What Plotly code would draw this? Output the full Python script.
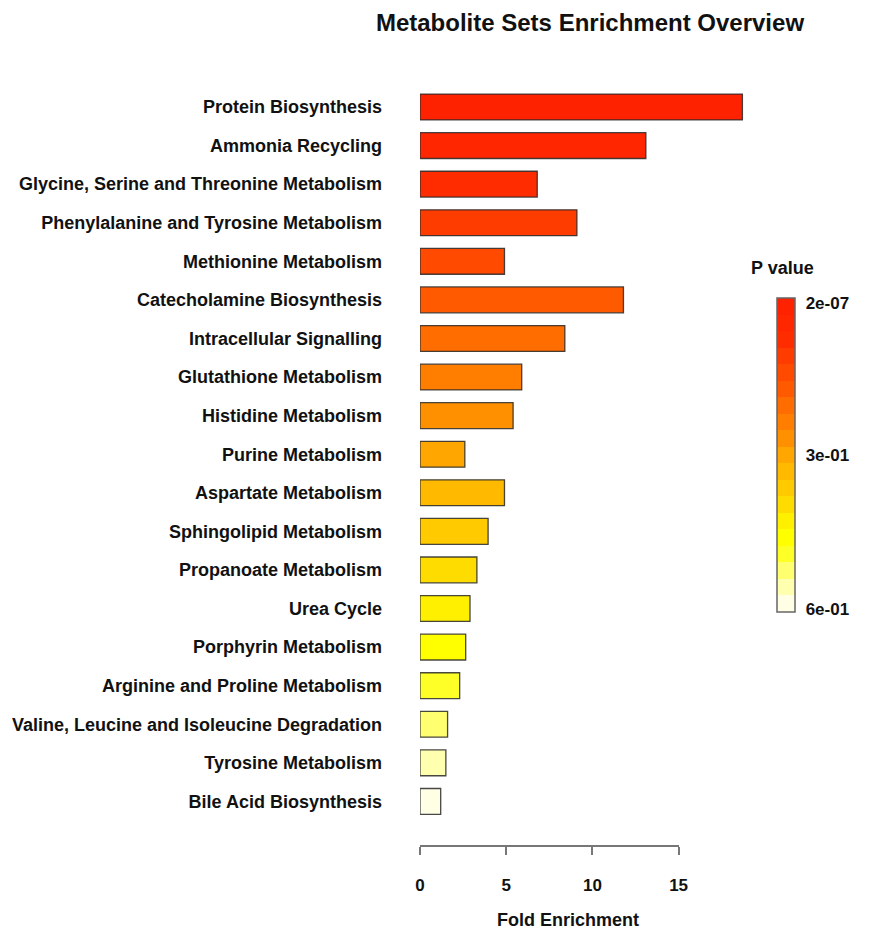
import plotly.graph_objects as go

categories = [
    "Protein Biosynthesis", "Ammonia Recycling", "Glycine, Serine and Threonine Metabolism",
    "Phenylalanine and Tyrosine Metabolism", "Methionine Metabolism", "Catecholamine Biosynthesis",
    "Intracellular Signalling", "Glutathione Metabolism", "Histidine Metabolism",
    "Purine Metabolism", "Aspartate Metabolism", "Sphingolipid Metabolism",
    "Propanoate Metabolism", "Urea Cycle", "Porphyrin Metabolism",
    "Arginine and Proline Metabolism", "Valine, Leucine and Isoleucine Degradation",
    "Tyrosine Metabolism", "Bile Acid Biosynthesis",
]
fold_enrichment = [18.7, 13.1, 6.8, 9.1, 4.9, 11.8, 8.4, 5.9, 5.4, 2.6,
                   4.9, 3.95, 3.3, 2.9, 2.65, 2.3, 1.6, 1.5, 1.2]
x_ticks = [0, 5, 10, 15]
pvalue_ticktext = ["2e-07", "3e-01", "6e-01"]

bar_colors = ["#FF2200", "#FF2600", "#FF2C00", "#FF3C00", "#FF4A00", "#FF5A00", "#FF6C00",
              "#FF7E00", "#FF9000", "#FFA600", "#FFBA00", "#FFCA00", "#FFDC00", "#FFF000",
              "#FFFF00", "#FFFF28", "#FFFF70", "#FFFFB0", "#FFFFE6"]

# stepped colorscale, bottom (white) -> top (red)
rev = bar_colors[::-1]
n = len(rev)
cscale = []
for i, c in enumerate(rev):
    cscale.append([i / n, c])
    cscale.append([(i + 1) / n, c])

FONT = "Liberation Sans, Arial, sans-serif"
TXT = "#111"

fig = go.Figure()
fig.add_trace(go.Scatter(
    x=[None], y=[None], xaxis="x2", yaxis="y", mode="markers", showlegend=False, hoverinfo="skip",
    marker=dict(
        color=[0.5], cmin=0, cmax=1, colorscale=cscale, showscale=True,
        colorbar=dict(
            x=1.0509, xanchor="left", xpad=0, y=0.5098, yanchor="middle", ypad=0,
            thickness=18, lenmode="pixels", len=314,
            outlinecolor="#666", outlinewidth=1.5,
            tickvals=[0.985, 0.5, 0.01], ticktext=pvalue_ticktext,
            ticks="outside", ticklen=7, tickcolor="rgba(0,0,0,0)",
            tickfont=dict(family=FONT, size=17, weight="bold", color=TXT),
        ),
    ),
))
fig.add_trace(go.Bar(
    x=fold_enrichment, y=categories, orientation="h",
    marker=dict(color=bar_colors, line=dict(color="rgba(40,40,40,0.85)", width=1.3)),
    width=0.67, showlegend=False, hoverinfo="x+y",
))

fig.update_layout(
    width=871, height=930,
    margin=dict(l=420, r=111, t=80, b=85),
    paper_bgcolor="white", plot_bgcolor="rgba(0,0,0,0)",
    title=dict(text="Metabolite Sets Enrichment Overview", x=0.5, xref="paper",
               xanchor="center", y=1 - 23 / 930, yanchor="middle",
               font=dict(family=FONT, size=24, weight="bold", color=TXT)),
    xaxis=dict(range=[0, 19.72], visible=False, showgrid=False, zeroline=False),
    xaxis2=dict(domain=[0, 15 / 19.72], range=[0, 15], anchor="y",
                tickvals=x_ticks, ticks="outside", ticklen=8, tickwidth=1.5, tickcolor="#777",
                showline=True, linecolor="#777", linewidth=1.5, showgrid=False, zeroline=False,
                tickfont=dict(family=FONT, size=17, weight="bold", color=TXT),
                ticklabelstandoff=16),
    yaxis=dict(type="category", categoryorder="array", categoryarray=categories,
               range=[19.13, -0.70], showgrid=False, zeroline=False, showline=False,
               ticks="", ticklabelstandoff=37,
               tickfont=dict(family=FONT, size=18, weight="bold", color=TXT)),
    annotations=[
        dict(text="Fold Enrichment", xref="paper", yref="paper",
             x=(568 - 420) / 340, y=-(920 - 845) / 765, xanchor="center", yanchor="middle",
             showarrow=False, font=dict(family=FONT, size=18, weight="bold", color=TXT)),
        dict(text="P value", xref="paper", yref="paper",
             x=(782.5 - 420) / 340, y=1 - (268.3 - 80) / 765, xanchor="center", yanchor="middle",
             showarrow=False, font=dict(family=FONT, size=18, weight="bold", color=TXT)),
    ],
)

fig.write_html("out.html", config={"displayModeBar": False},
               post_script="document.body.style.margin='0';document.body.style.overflow='hidden';")
